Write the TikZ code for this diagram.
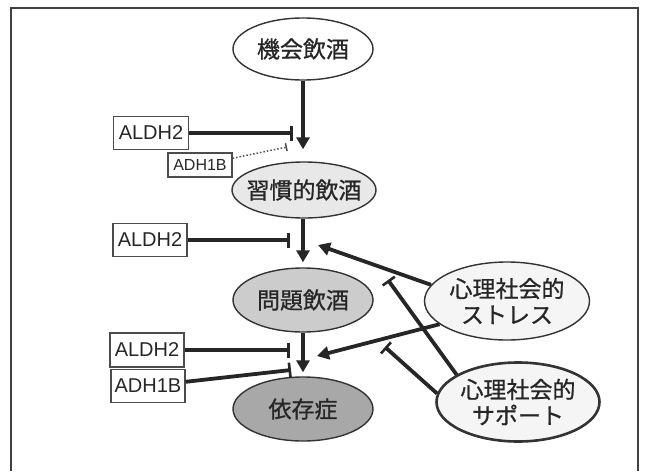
\documentclass[tikz,border=0pt]{standalone}
\usepackage{fontspec}
\setmainfont{Liberation Sans}
\newfontfamily\jp[FakeBold=0.8]{Noto Sans CJK JP}
\usetikzlibrary{shapes.geometric,arrows.meta}

\begin{document}
\begin{tikzpicture}[x=1pt,y=-1pt,
  stage/.style={ellipse, draw=black!80, line width=1.4pt, inner sep=0pt,
    font=\jp\fontsize{23}{26}\selectfont, text=black!85, align=center},
  gene/.style={rectangle, draw=black!70, line width=1.2pt, inner sep=0pt,
    font=\fontsize{20}{22}\selectfont, text=black!85,
    minimum width=74pt, minimum height=33pt},
  flow/.style={line width=3.8pt, draw=black!85,
    -{Triangle[width=13pt,length=12pt]}},
  block/.style={line width=3.8pt, draw=black!85,
    -{Bar[width=15pt,line width=2.6pt]}},
  weak/.style={line width=1.5pt, draw=black!70, dotted,
    -{Bar[width=8pt,line width=1.5pt]}},
]
\useasboundingbox (0,0) rectangle (647,471);

% frame, open at the bottom
\draw[line width=2pt, black!75] (11,471) -- (11,8) -- (638,8) -- (638,471);

% drinking stages
\node[stage, fill=white, minimum width=140pt, minimum height=62pt] (occ) at (303,49) {機会飲酒};
\node[stage, fill=black!9, minimum width=144pt, minimum height=56pt, inner xsep=-8pt] (hab) at (304,190) {習慣的飲酒};
\node[stage, fill=black!20, minimum width=140pt, minimum height=64pt] (prob) at (303,300) {問題飲酒};
\node[stage, fill=black!34, minimum width=140pt, minimum height=64pt] (dep) at (303,409) {依存症};

% psychosocial factors
\node[stage, fill=black!4, minimum width=165pt, minimum height=78pt] (stress) at (507,301) {心理社会的\\ストレス};
\node[stage, fill=black!4, line width=2.6pt, minimum width=163pt, minimum height=79pt] (support) at (518,402) {心理社会的\\サポート};

% genes
\node[gene, minimum width=75pt] (a1) at (151,133) {ALDH2};
\node[gene, minimum width=64pt, minimum height=24pt, font=\fontsize{16}{18}\selectfont] (b1) at (200,165) {ADH1B};
\node[gene] (a2) at (150,240) {ALDH2};
\node[gene, minimum height=34pt] (a3) at (147,350) {ALDH2};
\node[gene] (b2) at (148,386) {ADH1B};

% points where the inhibitions meet the transitions
\coordinate (i1) at (293,133);
\coordinate (i1b) at (287,147);
\coordinate (i2) at (290,240);
\coordinate (i3) at (290,350);
\coordinate (i4) at (291,370);
\coordinate (s1) at (318,245);
\coordinate (s2) at (317,356);
\coordinate (p1) at (388,280);
\coordinate (p2) at (385,347);

% stage transitions
\draw[flow, shorten >=12pt] (occ.south) -- (occ.south |- hab.north);
\draw[flow, shorten >=5pt] (occ.south |- hab.south) -- (occ.south |- prob.north);
\draw[flow, shorten >=4pt] (prob.south) -- (dep.north);

% genetic inhibition
\draw[block] (a1) -- (i1);
\draw[weak] (b1) -- (i1b);
\draw[block] (a2) -- (i2);
\draw[block] (a3) -- (i3);
\draw[block] (b2) -- (i4);

% stress promotes, support inhibits
\draw[flow] (stress.168) -- (s1);
\draw[flow] (stress.199) -- (s2);
\draw[block] (support.156) -- (p1);
\draw[block] (support.174) -- (p2);
\end{tikzpicture}
\end{document}
